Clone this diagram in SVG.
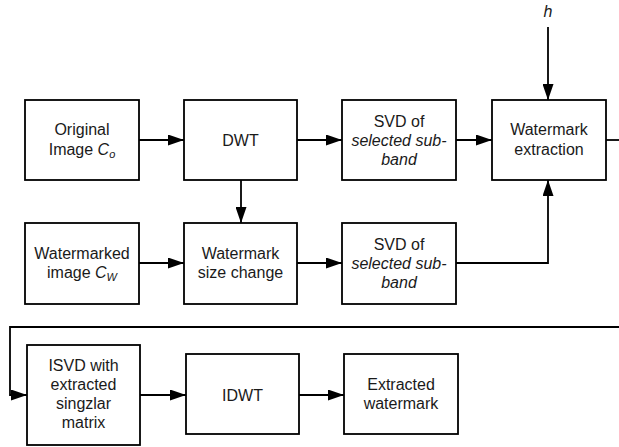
<svg xmlns="http://www.w3.org/2000/svg" width="619" height="447" viewBox="0 0 619 447">
<defs>
<style>
.box{fill:#fff;stroke:#000;stroke-width:1.8}
.t{font-family:"Liberation Sans",Arial,sans-serif;font-size:16px;fill:#1a1a1a;text-anchor:middle}
.i{font-style:italic}
.c{fill:none;stroke:#000;stroke-width:1.8}
</style>
<marker id="ah" viewBox="0 0 16 11" refX="16" refY="5.5" markerWidth="16" markerHeight="11" markerUnits="userSpaceOnUse" orient="auto">
<path d="M0,0 L16,5.5 L0,11 Z" fill="#000"/>
</marker>
</defs>
<rect width="619" height="447" fill="#fff"/>
<g id="connectors">
<path class="c" d="M139,140 H184" marker-end="url(#ah)"/>
<path class="c" d="M297,140 H342" marker-end="url(#ah)"/>
<path class="c" d="M456,140 H492" marker-end="url(#ah)"/>
<path class="c" d="M548,27 V100" marker-end="url(#ah)"/>
<path class="c" d="M606,140 H619"/>
<path class="c" d="M241,180 V223" marker-end="url(#ah)"/>
<path class="c" d="M139,263 H184" marker-end="url(#ah)"/>
<path class="c" d="M297,263 H342" marker-end="url(#ah)"/>
<path class="c" d="M456,263 H548 V180" marker-end="url(#ah)"/>
<path class="c" d="M619,327 H10 V395 H27" marker-end="url(#ah)"/>
<path class="c" d="M140,395 H186" marker-end="url(#ah)"/>
<path class="c" d="M299,395 H344" marker-end="url(#ah)"/>
<text class="t i" x="548" y="17">h</text>
</g>
<g id="original">
<rect class="box" x="25" y="100" width="114" height="80"/>
<text class="t" x="82" y="135">Original</text>
<text class="t" x="82" y="155">Image <tspan class="i">C</tspan><tspan class="i" font-size="11" dy="3">o</tspan></text>
</g>
<g id="dwt">
<rect class="box" x="184" y="100" width="113" height="80"/>
<text class="t" x="240.5" y="146">DWT</text>
</g>
<g id="svd1">
<rect class="box" x="342" y="100" width="114" height="80"/>
<text class="t" x="399" y="127">SVD of</text>
<text class="t i" x="399" y="146">selected sub-</text>
<text class="t i" x="399" y="165">band</text>
</g>
<g id="extraction">
<rect class="box" x="492" y="100" width="114" height="80"/>
<text class="t" x="549" y="135">Watermark</text>
<text class="t" x="549" y="155">extraction</text>
</g>
<g id="watermarked">
<rect class="box" x="25" y="223" width="114" height="81"/>
<text class="t" x="82" y="259">Watermarked</text>
<text class="t" x="82" y="278">image <tspan class="i">C</tspan><tspan class="i" font-size="11" dy="3">W</tspan></text>
</g>
<g id="sizechange">
<rect class="box" x="184" y="223" width="113" height="81"/>
<text class="t" x="240.5" y="259">Watermark</text>
<text class="t" x="240.5" y="278">size change</text>
</g>
<g id="svd2">
<rect class="box" x="342" y="223" width="114" height="81"/>
<text class="t" x="399" y="250">SVD of</text>
<text class="t i" x="399" y="269">selected sub-</text>
<text class="t i" x="399" y="288">band</text>
</g>
<g id="isvd">
<rect class="box" x="27" y="345" width="113" height="100"/>
<text class="t" x="83.5" y="371">ISVD with</text>
<text class="t" x="83.5" y="390">extracted</text>
<text class="t" x="83.5" y="409">singzlar</text>
<text class="t" x="83.5" y="428">matrix</text>
</g>
<g id="idwt">
<rect class="box" x="186" y="354" width="113" height="80"/>
<text class="t" x="242.5" y="400.5">IDWT</text>
</g>
<g id="extracted">
<rect class="box" x="344" y="354" width="114" height="80"/>
<text class="t" x="401" y="390">Extracted</text>
<text class="t" x="401" y="409">watermark</text>
</g>
</svg>
